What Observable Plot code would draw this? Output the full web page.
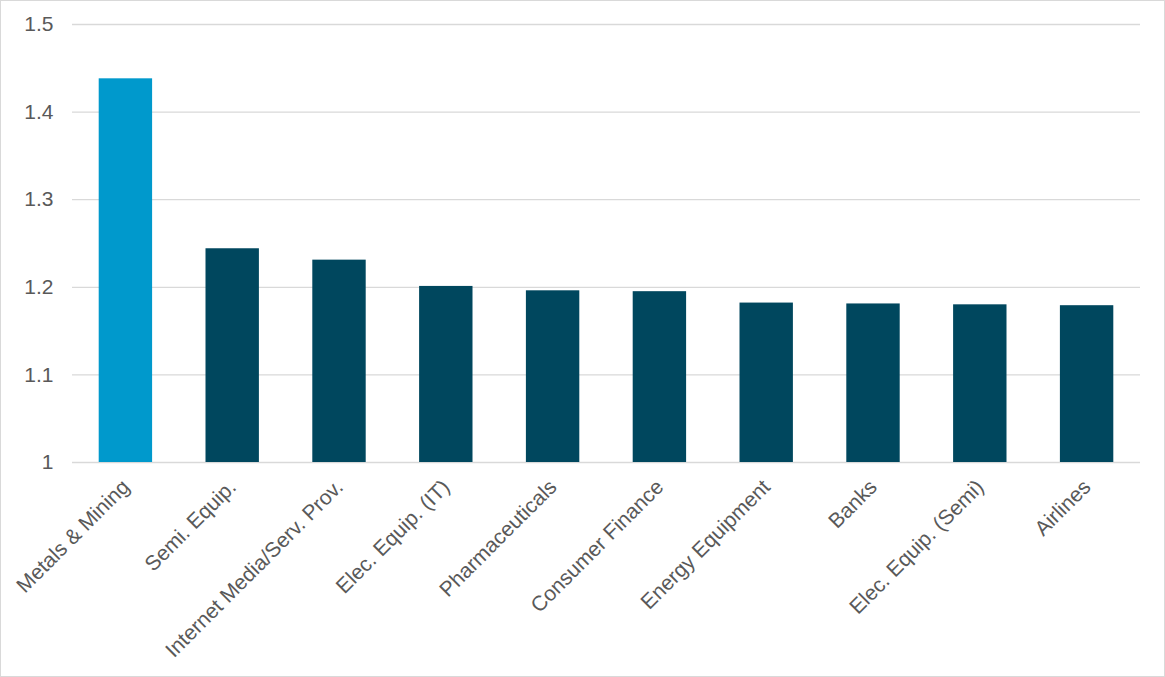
<!DOCTYPE html>
<html>
<head>
<meta charset="utf-8">
<script src="https://cdn.jsdelivr.net/npm/d3@7"></script>
<script src="https://cdn.jsdelivr.net/npm/@observablehq/plot@0.6"></script>
<style>
  html, body { margin: 0; padding: 0; background: #fff; }
  #frame { width: 1163px; height: 675px; border: 1px solid #d9d9d9; background: #fff; }
  svg { display: block; }
</style>
</head>
<body>
<div id="frame"></div>
<script>
const categories = ["Metals & Mining", "Semi. Equip.", "Internet Media/Serv. Prov.", "Elec. Equip. (IT)", "Pharmaceuticals", "Consumer Finance", "Energy Equipment", "Banks", "Elec. Equip. (Semi)", "Airlines"];
const values = [1.438, 1.244, 1.231, 1.201, 1.196, 1.195, 1.182, 1.181, 1.180, 1.179];
const highlight = ["Metals & Mining"];
const yTicks = [1, 1.1, 1.2, 1.3, 1.4, 1.5];

const data = categories.map((c, i) => ({category: c, value: values[i], hi: highlight.includes(c)}));

const chart = Plot.plot({
  width: 1163,
  height: 675,
  marginLeft: 71,
  marginRight: 24,
  marginTop: 23,
  marginBottom: 214,
  style: {fontFamily: "'Liberation Sans', Arial, sans-serif", fontSize: "21px", color: "#595959", background: "#fff"},
  x: {domain: categories, paddingInner: 0.5, paddingOuter: 0.25, round: false, label: null},
  y: {domain: [1, 1.5], label: null},
  marks: [
    Plot.ruleY(yTicks, {stroke: "#d9d9d9", strokeWidth: 1.3}),
    Plot.barY(data, {x: "category", y1: 1, y2: "value", fill: d => d.hi ? "#0099CC" : "#00475E"}),
    Plot.axisY(yTicks, {tickSize: 0, tickPadding: 19, tickFormat: d => String(d), fill: "#595959", fontSize: 21, label: null}),
    Plot.axisX({tickSize: 0, tickRotate: -45, tickPadding: 21, fill: "#595959", fontSize: 21, label: null})
  ]
});
document.getElementById("frame").appendChild(chart);
</script>
</body>
</html>
